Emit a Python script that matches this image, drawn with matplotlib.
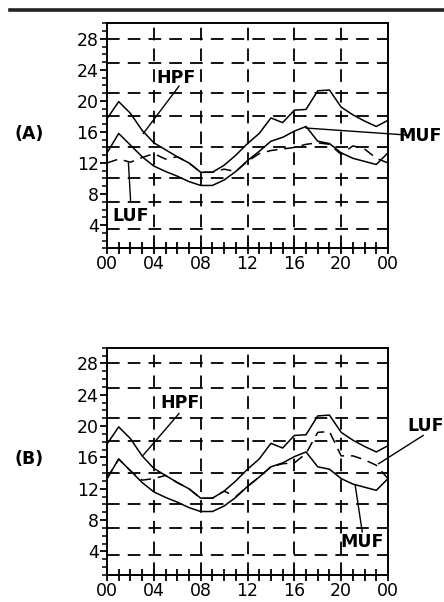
"""Two-panel HPF / MUF / LUF daily frequency chart, panels (A) and (B)."""
import matplotlib

matplotlib.use("Agg")
import matplotlib.pyplot as plt
import numpy as np

HOURS = np.arange(0, 25)

# Shared by both panels.
HPF = [17.7, 19.9, 18.4, 16.2, 14.6, 13.7, 12.8, 12.0, 10.8, 10.8, 11.7, 13.0,
       14.5, 15.8, 17.8, 17.2, 18.8, 18.9, 21.3, 21.4, 19.2, 18.2, 17.4, 16.7, 17.5]
MUF = [13.3, 15.8, 14.3, 12.8, 11.6, 10.9, 10.3, 9.6, 9.1, 9.1, 9.8, 10.9,
       12.3, 13.5, 14.8, 15.3, 16.1, 16.7, 14.8, 14.5, 13.3, 12.6, 12.2, 11.8, 13.3]

LUF_A = [12.0, 12.5, 12.1, 12.7, 13.2, 12.5, 12.8, 12.0, 10.8, 10.8, 11.2, 10.9,
         12.2, 13.2, 13.6, 13.8, 14.0, 14.4, 14.6, 14.4, 13.1, 14.2, 13.8, 12.6, 12.0]
LUF_B = [13.3, 15.8, 14.3, 13.1, 13.3, 13.7, 12.8, 12.0, 10.8, 10.8, 11.7, 11.0,
         12.3, 13.5, 14.8, 15.2, 15.3, 16.5, 19.2, 19.3, 16.2, 16.2, 15.7, 15.0, 13.3]

# dashed horizontal lines (band frequencies, MHz)
BANDS = [3.5, 7.0, 10.1, 14.0, 18.1, 21.0, 24.9, 28.0]
HOUR_GRID = [4, 8, 12, 16, 20]
X_TICKS = [0, 4, 8, 12, 16, 20, 24]
X_LABELS = ["00", "04", "08", "12", "16", "20", "00"]
Y_TICKS = [4, 8, 12, 16, 20, 24, 28]

DASH = (0, (7.0, 4.5))
LW = 1.1


def draw_panel(ax, luf, tag, labels):
    ax.set_xlim(0, 24)
    ax.set_ylim(1, 30)
    for f in BANDS:
        ax.axhline(f, color="black", lw=1.3, ls=DASH, zorder=1)
    for h in HOUR_GRID:
        ax.axvline(h, color="black", lw=1.3, ls=DASH, zorder=1)

    ax.plot(HOURS, HPF, color="black", lw=LW, zorder=3)
    ax.plot(HOURS, MUF, color="black", lw=LW, zorder=3)
    ax.plot(HOURS, luf, color="black", lw=LW, ls=DASH, zorder=3)

    for s in ax.spines.values():
        s.set_linewidth(1.4)
    ax.set_xticks(X_TICKS)
    ax.set_xticklabels(X_LABELS)
    ax.set_xticks(range(25), minor=True)
    ax.set_yticks(Y_TICKS)
    ax.set_yticks(range(1, 31), minor=True)
    ax.tick_params(axis="x", which="both", direction="inout", length=8, width=1.3,
                   labelsize=12.5, pad=1, top=False)
    ax.tick_params(axis="y", which="major", direction="out", length=5, width=1.3,
                   labelsize=12.5, pad=1, right=False)
    ax.tick_params(axis="y", which="minor", direction="out", length=3.5, width=1.1,
                   right=False)

    ax.text(-0.278, 0.51, tag, transform=ax.transAxes, fontsize=12.5,
            fontweight="bold", ha="center", va="center")
    for name, (tx, ty), (x0, y0), (x1, y1) in labels:
        ax.text(tx, ty, name, fontsize=12.5, fontweight="bold", ha="center",
                va="center", zorder=5, clip_on=False)
        ax.plot([x0, x1], [y0, y1], color="black", lw=1.0, zorder=4, clip_on=False)


fig = plt.figure(figsize=(4.44, 6.02), dpi=100)
fig.add_artist(plt.Line2D([10 / 444, 443 / 444], [1 - 10 / 602, 1 - 10 / 602],
                          color="#222222", lw=2.6))

ax_a = fig.add_axes([107 / 444, 1 - 248.3 / 602, 281 / 444, 225 / 602])
draw_panel(ax_a, LUF_A, "(A)", [
    ("HPF", (5.9, 23.0), (6.15, 21.9), (3.1, 15.8)),
    ("LUF", (2.05, 5.2), (2.02, 7.0), (1.83, 12.0)),
    ("MUF", (26.7, 15.5), (25.6, 15.6), (17.0, 16.5)),
])

ax_b = fig.add_axes([107 / 444, 1 - 575 / 602, 281 / 444, 227.3 / 602])
draw_panel(ax_b, LUF_B, "(B)", [
    ("HPF", (6.2, 22.9), (6.15, 21.6), (3.1, 16.3)),
    ("LUF", (27.2, 20.0), (27.0, 18.8), (23.2, 15.2)),
    ("MUF", (21.8, 5.2), (21.8, 6.5), (21.2, 12.45)),
])

fig.savefig("out.png", dpi=100)
